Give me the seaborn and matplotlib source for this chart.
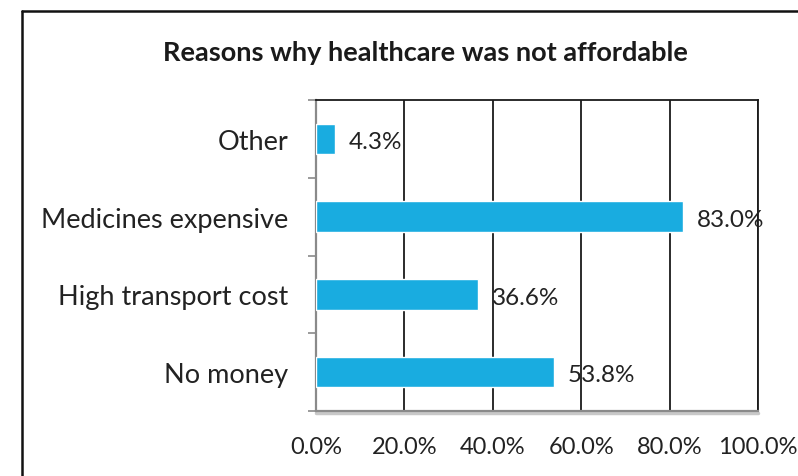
import matplotlib
matplotlib.use("Agg")
import matplotlib.pyplot as plt
from matplotlib.lines import Line2D
from matplotlib.ticker import FixedLocator, FuncFormatter
import seaborn as sns
import pandas as pd

categories = ["Other", "Medicines expensive", "High transport cost", "No money"]
shares = [4.3, 83.0, 36.6, 53.8]
x_ticks = [0, 20, 40, 60, 80, 100]
title = "Reasons why healthcare was not affordable"

df = pd.DataFrame({"reason": categories, "share": shares})

sns.set_theme(style="white")
plt.rcParams["font.family"] = ["Lato", "DejaVu Sans"]

fig = plt.figure(figsize=(7.98, 4.77), dpi=100)
ax = fig.add_axes([316 / 798, 1 - 412 / 477, (758 - 316) / 798, (412 - 101) / 477])

sns.barplot(data=df, y="reason", x="share", order=categories, orient="h",
            color="#19ACE0", width=0.39, saturation=1, ax=ax, zorder=3)

ax.set_xlim(0, 100)
ax.set_ylim(3.5, -0.5)
ax.set_xlabel("")
ax.set_ylabel("")

# vertical gridlines
for t in x_ticks[1:]:
    ax.axvline(t, color="#1a1a1a", lw=1.3, zorder=1)

ax.xaxis.set_major_locator(FixedLocator(x_ticks))
ax.xaxis.set_major_formatter(FuncFormatter(lambda v, p: f"{v:.1f}%"))
ax.tick_params(axis="x", which="major", length=6, width=1.2, color="#8a8a8a",
               direction="out", pad=12, labelsize=17, labelcolor="#222222")

ax.set_yticks(range(len(categories)))
ax.set_yticklabels(categories)
ax.tick_params(axis="y", which="major", length=0, pad=20, labelsize=19.5,
               labelcolor="#222222")
ax.yaxis.set_minor_locator(FixedLocator([i - 0.5 for i in range(len(categories) + 1)]))
ax.tick_params(axis="y", which="minor", length=6, width=1.2, color="#8a8a8a",
               direction="out", left=True)

for side in ["left", "bottom"]:
    ax.spines[side].set_color("#8a8a8a")
    ax.spines[side].set_linewidth(1.6)
for side in ["top", "right"]:
    ax.spines[side].set_color("#1a1a1a")
    ax.spines[side].set_linewidth(1.3)
    ax.spines[side].set_visible(True)

# soft shadow under the bottom axis
ax.plot([0, 1], [-0.006, -0.006], transform=ax.transAxes, color="#c8c8c8",
        lw=2.5, clip_on=False, zorder=0)

for i, v in enumerate(shares):
    ax.annotate(f"{v:.1f}%", xy=(v, i), xytext=(10, -2), textcoords="offset points",
                ha="left", va="center", fontsize=17.5, color="#222222", zorder=4)

fig.text(425 / 798, 1 - 53 / 477, title, ha="center", va="center",
         fontsize=19.5, fontweight="bold", color="#1a1a1a")

# outer chart frame
fig.add_artist(Line2D([22 / 798, 22 / 798], [0, 1 - 12 / 477], transform=fig.transFigure,
                      color="#111111", lw=1.8))
fig.add_artist(Line2D([22 / 798, 1], [1 - 12 / 477, 1 - 12 / 477], transform=fig.transFigure,
                      color="#111111", lw=1.8))

fig.savefig("out.png", dpi=100, facecolor="white")
